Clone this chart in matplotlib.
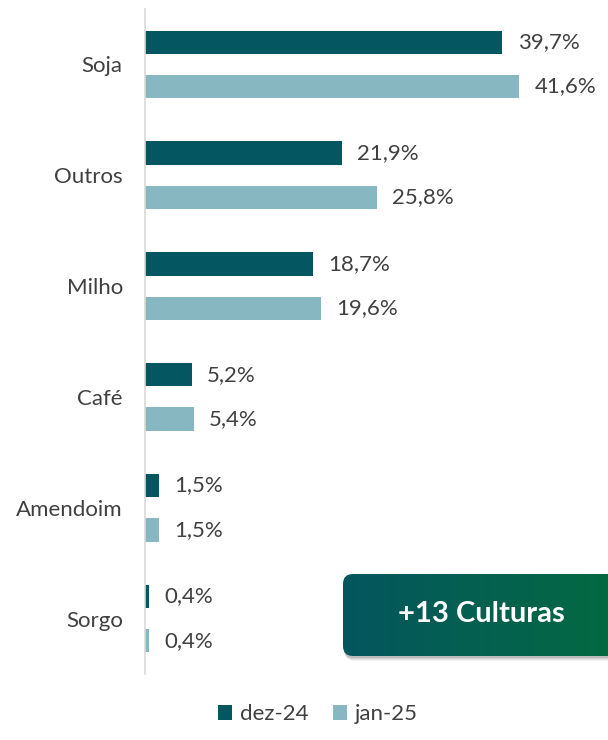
import matplotlib.pyplot as plt
import numpy as np
from matplotlib.patches import FancyBboxPatch

CATEGORIES = ["Soja", "Outros", "Milho", "Café", "Amendoim", "Sorgo"]
DEZ_24 = [39.7, 21.9, 18.7, 5.2, 1.5, 0.4]
JAN_25 = [41.6, 25.8, 19.6, 5.4, 1.5, 0.4]
SERIES_NAMES = ["dez-24", "jan-25"]
BADGE_TEXT = "+13 Culturas"

DARK = "#045760"
LIGHT = "#87B7C1"
TEXT = "#404040"
FS = 16

plt.rcParams["font.family"] = ["Lato", "DejaVu Sans"]


def fmt(v):
    return f"{v:.1f}".replace(".", ",") + "%"


def main():
    fig = plt.figure(figsize=(6.08, 7.40), dpi=100)
    ax = fig.add_axes([145 / 608, 1 - 674 / 740, 1 - 145 / 608, 665 / 740])

    y = np.arange(len(CATEGORIES))
    h = 0.21
    b1 = ax.barh(y - 0.2, DEZ_24, height=h, color=DARK, label=SERIES_NAMES[0])
    b2 = ax.barh(y + 0.2, JAN_25, height=h, color=LIGHT, label=SERIES_NAMES[1])

    for bars, vals in ((b1, DEZ_24), (b2, JAN_25)):
        for bar, v in zip(bars, vals):
            ax.annotate(fmt(v), (bar.get_width(), bar.get_y() + bar.get_height() / 2),
                        xytext=(11, 0), textcoords="offset points",
                        va="center", ha="left", fontsize=FS, color=TEXT)

    ax.set_xlim(0, 463 / 9.0)
    ax.set_ylim(len(CATEGORIES) - 0.5, -0.5)
    ax.set_yticks(y)
    ax.set_yticklabels(CATEGORIES, fontsize=FS, color=TEXT)
    ax.tick_params(axis="y", length=0, pad=16)
    ax.set_xticks([])
    for s in ("top", "right", "bottom"):
        ax.spines[s].set_visible(False)
    ax.spines["left"].set_color("#D9D9D9")
    ax.spines["left"].set_linewidth(1.2)

    fig.legend(handles=[b1, b2], loc="lower center", bbox_to_anchor=(318 / 608, -0.006),
               ncol=2, frameon=False, fontsize=FS, labelcolor=TEXT,
               handlelength=0.65, handleheight=0.65, handletextpad=0.35,
               columnspacing=1.1)

    # badge overlay in pixel coords
    ov = fig.add_axes([0, 0, 1, 1])
    ov.set_xlim(0, 608)
    ov.set_ylim(740, 0)
    ov.axis("off")
    for i, a in enumerate([0.05, 0.06, 0.08, 0.1]):
        off = 5 - i
        sh = FancyBboxPatch((343 + off * 0.3, 574 + off), 300, 82,
                            boxstyle="round,pad=0,rounding_size=10",
                            fc="black", ec="none", alpha=a)
        ov.add_patch(sh)
    clip = FancyBboxPatch((343, 574), 300, 82, boxstyle="round,pad=0,rounding_size=10",
                          fc="none", ec="none")
    ov.add_patch(clip)
    c0 = np.array([5, 86, 94]) / 255
    c1 = np.array([3, 108, 62]) / 255
    t = np.linspace(0, 1, 256)
    grad = (c0[None, :] * (1 - t[:, None]) + c1[None, :] * t[:, None])[None, :, :]
    im = ov.imshow(grad, extent=[343, 643, 656, 574], aspect="auto", zorder=2)
    im.set_clip_path(clip)
    ov.set_xlim(0, 608)
    ov.set_ylim(740, 0)
    ov.text(481, 614, BADGE_TEXT, color="white", fontsize=21, fontweight="bold",
            ha="center", va="center", zorder=3)

    fig.savefig("out.png", dpi=100)


if __name__ == "__main__":
    main()
